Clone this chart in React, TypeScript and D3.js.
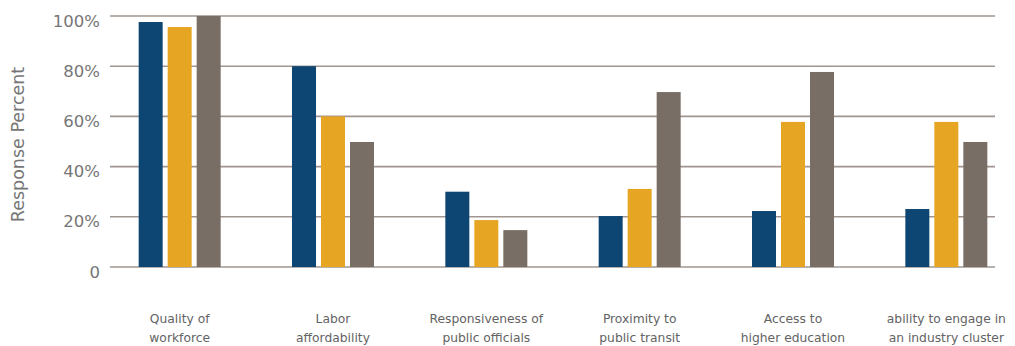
import React from "react";
import * as d3 from "d3";

const categories: string[][] = [
  ["Quality of", "workforce"],
  ["Labor", "affordability"],
  ["Responsiveness of", "public officials"],
  ["Proximity to", "public transit"],
  ["Access to", "higher education"],
  ["ability to engage in", "an industry cluster"],
];

const series1 = [97.6, 80, 30, 20.3, 22.3, 23.1];
const series2 = [95.6, 60, 18.7, 31.1, 57.8, 57.8];
const series3 = [100, 49.8, 14.7, 69.7, 77.7, 49.8];

const seriesColors = ["#0e4673", "#e6a623", "#786e65"];
const yTicks = [0, 20, 40, 60, 80, 100];

const W = 1015;
const H = 346;
const FONT = "'DejaVu Sans', 'Noto Sans', sans-serif";

export default function App() {
  const y = d3.scaleLinear().domain([0, 100]).range([267, 16]);
  const x = d3
    .scaleBand<number>()
    .domain(d3.range(categories.length))
    .range([103, 1023])
    .paddingInner(0)
    .paddingOuter(0);
  const inner = d3
    .scaleBand<number>()
    .domain([0, 1, 2])
    .range([0, 82])
    .paddingInner(5 / 29)
    .paddingOuter(0);

  const all = [series1, series2, series3];
  const groupLeft = (i: number) => (x(i) as number) + x.bandwidth() / 2 - 41;

  return (
    <svg
      width={W}
      height={H}
      style={{ position: "absolute", left: 0, top: 0, background: "#fff" }}
      fontFamily={FONT}
    >
      {yTicks.map((t) => (
        <g key={t}>
          <line
            x1={110}
            x2={995}
            y1={y(t)}
            y2={y(t)}
            stroke="#a0968f"
            strokeWidth={1.6}
          />
          <text
            x={100}
            y={y(t) + 10.5}
            textAnchor="end"
            fontSize={16.5}
            fill="#767676"
          >
            {t === 0 ? "0" : `${t}%`}
          </text>
        </g>
      ))}
      <text
        transform={`translate(24,${(y(0) + y(100)) / 2 + 3}) rotate(-90)`}
        textAnchor="middle"
        fontSize={17.5}
        fill="#767676"
      >
        Response Percent
      </text>
      {all.map((vals, s) =>
        vals.map((v, i) => (
          <rect
            key={`${s}-${i}`}
            x={groupLeft(i) + (inner(s) as number)}
            y={y(v)}
            width={inner.bandwidth()}
            height={y(0) - y(v)}
            fill={seriesColors[s]}
          />
        ))
      )}
      {categories.map((lines, i) => (
        <text key={i} textAnchor="middle" fontSize={12.3} fill="#636363">
          {lines.map((l, k) => (
            <tspan key={k} x={groupLeft(i) + 41} y={323 + k * 19}>
              {l}
            </tspan>
          ))}
        </text>
      ))}
    </svg>
  );
}
